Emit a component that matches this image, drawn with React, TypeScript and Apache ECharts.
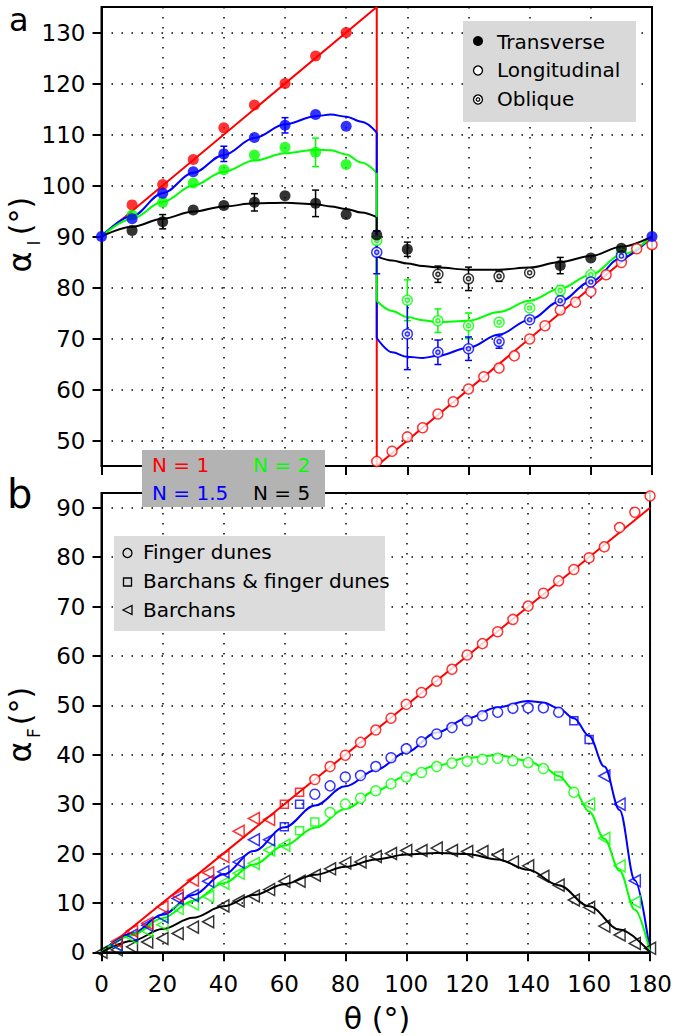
import { useEffect, useRef } from "react";
import * as echarts from "echarts";

const RED = "#ff0000";
const GREEN = "#00ff00";
const BLUE = "#0000ff";
const BLACK = "#000000";
const FONT = "DejaVu Sans";

// ---------- ticks ----------
const X_TICKS = [0, 20, 40, 60, 80, 100, 120, 140, 160, 180];
const Y_TICKS_A = [50, 60, 70, 80, 90, 100, 110, 120, 130];
const Y_TICKS_B = [0, 10, 20, 30, 40, 50, 60, 70, 80, 90];

// ---------- panel a : measured points ----------
const transThetaA = [10, 20, 30, 40, 50, 60, 70, 80];
const redTransverse = [96.2, 100.2, 105.1, 111.3, 115.8, 120.0, 125.4, 130.0];
const greenTransverse = [94.2, 96.7, 100.5, 103.1, 106.0, 107.5, 106.5, 104.1];
const blueTransTheta = [0, 10, 20, 30, 40, 50, 60, 70, 80, 180];
const blueTransverse = [90, 93.5, 98.5, 102.7, 106.2, 109.4, 111.8, 113.9, 111.6, 90];
const blackTransTheta = [10, 20, 30, 40, 50, 60, 70, 80, 90, 100, 150, 160, 170];
const blackTransverse = [91.2, 92.9, 95.2, 96.1, 96.7, 98.0, 96.5, 94.3, 90.3, 87.5, 84.3, 85.8, 87.7];

const redLongTheta = [90, 95, 100, 105, 110, 115, 120, 125, 130, 135, 140, 145, 150, 155, 160, 165, 170, 175, 180];
const redLongitudinal = [45.9, 47.9, 50.7, 52.5, 55.2, 57.6, 60.1, 62.5, 64.2, 66.6, 69.9, 72.5, 75.6, 77.1, 79.2, 82.5, 84.9, 87.6, 88.4];

const obliqueTheta = [90, 100, 110, 120, 130, 140, 150, 160, 170];
const greenOblique = [89.2, 77.5, 73.5, 72.5, 73.2, 76.0, 79.4, 82.5, 86.8];
const blueOblique = [86.9, 70.9, 67.3, 68.0, 69.4, 73.7, 77.4, 81.1, 86.2];
const blackObliqueTheta = [110, 120, 130, 140];
const blackOblique = [82.6, 81.7, 82.2, 82.9];

// error bars: [theta, value, half-width]
const errBlackA = [[20, 92.9, 1.4], [50, 96.7, 1.7], [70, 96.5, 2.6], [90, 90.3, 0.8], [100, 87.5, 1.4], [110, 82.6, 1.6], [120, 81.7, 2.3], [130, 82.2, 1.0], [150, 84.3, 1.6]];
const errGreenA = [[70, 106.5, 2.8], [100, 77.5, 4.0], [110, 73.5, 2.3], [120, 72.5, 2.5], [150, 79.4, 1.0]];
const errBlueA = [[40, 106.2, 1.5], [60, 111.8, 1.5], [90, 86.9, 4.2], [100, 70.9, 7.0], [110, 67.3, 2.4], [120, 68.0, 2.3], [130, 69.4, 1.3]];

// ---------- panel a : model curves ----------
const curveThetaTA = [0, 10, 20, 30, 40, 50, 60, 70, 75, 80, 85, 90];
const blueCurveTA = [90, 94.0, 98.5, 102.5, 106.0, 109.3, 112.0, 113.6, 113.9, 113.5, 112.5, 110.4];
const greenCurveTA = [90, 93.5, 96.8, 100.0, 102.7, 104.9, 106.3, 107.0, 106.9, 106.1, 104.5, 102.5];
const blackCurveTA = [90, 91.9, 93.5, 94.9, 95.9, 96.5, 96.6, 96.3, 95.9, 95.4, 94.7, 93.8];
const curveThetaLA = [90, 95, 100, 105, 110, 120, 130, 140, 150, 160, 170, 180];
const blueCurveLA = [70.1, 67.3, 66.4, 66.2, 66.6, 68.2, 70.8, 73.7, 77.3, 81.2, 85.8, 90];
const greenCurveLA = [77.4, 75.4, 74.2, 73.6, 73.2, 73.5, 75.2, 77.4, 79.8, 82.5, 86.4, 90];
const blackCurveLA = [86.1, 85.3, 84.7, 84.2, 83.9, 83.5, 83.5, 83.9, 85.0, 86.2, 88.0, 90];
const redCurveA = [[0, 90], [90, 135], [90, 45], [180, 90]];

// ---------- panel b : measured points ----------
const redBarchansTheta = [5, 10, 15, 20, 25, 30, 35, 40, 45, 50, 55];
const redBarchans = [2.2, 4.3, 5.9, 9.2, 11.5, 14.6, 16.1, 19.4, 24.5, 27.1, 26.9];
const redMixedTheta = [60, 65];
const redMixed = [30.0, 32.4];
const redFingerTheta = [70, 75, 80, 85, 90, 95, 100, 105, 110, 115, 120, 125, 130, 135, 140, 145, 150, 155, 160, 165, 170, 175, 180];
const redFinger = [35.0, 37.6, 39.9, 42.5, 45.0, 47.4, 50.2, 52.6, 54.9, 57.3, 60.2, 62.5, 64.9, 67.4, 70.1, 72.7, 75.2, 77.5, 79.9, 82.1, 86.0, 89.1, 92.4];

const blueBarchansTheta = [5, 10, 15, 20, 25, 30, 35, 40, 45, 50, 55, 165, 170, 175];
const blueBarchans = [1.5, 3.5, 5.5, 7.2, 10.9, 11.5, 14.4, 16.3, 18.3, 22.8, 22.8, 35.7, 30.0, 14.5];
const blueMixedTheta = [60, 65, 155, 160];
const blueMixed = [25.4, 30.0, 46.9, 43.1];
const blueFingerTheta = [70, 75, 80, 85, 90, 95, 100, 105, 110, 115, 120, 125, 130, 135, 140, 145, 150];
const blueFinger = [32.0, 33.7, 35.5, 35.8, 37.6, 39.4, 41.2, 42.6, 44.2, 45.5, 46.9, 47.9, 48.6, 49.4, 49.5, 49.5, 48.6];

const greenBarchansTheta = [5, 10, 15, 20, 25, 30, 35, 40, 45, 50, 55, 60, 160, 165, 170, 175];
const greenBarchans = [1.5, 3.0, 4.3, 5.6, 8.9, 9.8, 11.3, 14.0, 16.0, 18.0, 20.7, 21.7, 30.0, 23.1, 17.5, 10.2];
const greenMixedTheta = [65, 70, 150];
const greenMixed = [24.6, 26.4, 35.7];
const greenFingerTheta = [75, 80, 85, 90, 95, 100, 105, 110, 115, 120, 125, 130, 135, 140, 145, 155];
const greenFinger = [28.3, 30.0, 31.2, 32.7, 34.1, 35.5, 36.4, 37.6, 38.3, 38.7, 39.1, 39.3, 38.8, 38.4, 37.2, 32.4];

const blackBarchansTheta = [0, 5, 10, 15, 20, 25, 30, 35, 40, 45, 50, 55, 60, 65, 70, 75, 80, 85, 90, 95, 100, 105, 110, 115, 120, 125, 130, 135, 140, 145, 150, 155, 160, 165, 170, 175, 180];
const blackBarchans = [0, 0.5, 1.1, 2.1, 2.8, 3.8, 5.1, 6.2, 9.4, 10.4, 11.4, 12.7, 14.4, 14.4, 15.6, 16.9, 18.1, 18.3, 19.4, 20.0, 20.6, 20.6, 21.1, 20.6, 20.4, 20.4, 19.7, 18.3, 17.5, 15.4, 13.6, 10.6, 9.1, 5.3, 3.5, 1.8, 0.8];

// ---------- panel b : model curves ----------
const curveThetaB = [0, 10, 20, 30, 40, 50, 60, 70, 80, 90, 100, 110, 120, 130, 140, 145, 150, 155, 160, 165, 170, 175, 180];
const blueCurveB = [0, 3.8, 7.6, 11.6, 15.8, 20.5, 25.3, 29.7, 33.6, 36.9, 40.5, 44.5, 47.4, 49.6, 50.9, 50.6, 49.4, 47.4, 43.8, 37.6, 28.8, 14.6, 0];
const greenCurveB = [0, 3.4, 6.9, 10.4, 14.0, 17.8, 21.6, 25.2, 29.0, 32.7, 35.7, 37.8, 39.4, 39.9, 38.8, 37.5, 35.7, 32.9, 28.5, 23.0, 16.5, 8.6, 0];
const blackCurveThetaB = [0, 10, 20, 30, 40, 50, 60, 70, 80, 90, 100, 110, 120, 130, 140, 150, 160, 170, 180];
const blackCurveB = [0, 2.3, 4.7, 7.0, 9.3, 11.6, 13.8, 15.7, 17.3, 18.8, 19.8, 20.1, 19.9, 18.8, 16.7, 13.6, 9.3, 4.6, 0];
const redCurveB = [[0, 0], [180, 90]];

// ---------- helpers ----------
const zip = (xs: number[], ys: number[]) => xs.map((x, i) => [x, ys[i]]);

const SYM_DOUBLE = "path://M10,0A10,10,0,1,1,10,20A10,10,0,1,1,10,0ZM10,6A4,4,0,1,1,10,14A4,4,0,1,1,10,6Z";
const SYM_LTRI = "path://M0,6L11,0L11,12Z";

function scatter(g: number, data: number[][], symbol: string, size: number | number[], color: string, mode: "filled" | "white" | "none", z = 5) {
  return {
    type: "scatter",
    xAxisIndex: g,
    yAxisIndex: g,
    data,
    symbol,
    symbolSize: size,
    silent: true,
    z,
    clip: false,
    itemStyle:
      mode === "filled"
        ? { color, borderWidth: 0 }
        : { color: mode === "white" ? "#ffffff" : "rgba(255,255,255,0)", borderColor: color, borderWidth: 1.5 },
  };
}

function curve(g: number, data: number[][], color: string, smooth: number | boolean = 0.35) {
  return {
    type: "line",
    xAxisIndex: g,
    yAxisIndex: g,
    data,
    symbol: "none",
    showSymbol: false,
    smooth,
    smoothMonotone: "x",
    silent: true,
    z: 3,
    lineStyle: { color, width: 2 },
  };
}

function errBars(g: number, data: number[][], color: string) {
  return {
    type: "custom",
    xAxisIndex: g,
    yAxisIndex: g,
    data,
    silent: true,
    z: 4,
    encode: { x: 0, y: 1 },
    renderItem: (_p: any, api: any) => {
      const x = api.value(0);
      const v = api.value(1);
      const e = api.value(2);
      const p1 = api.coord([x, v - e]);
      const p2 = api.coord([x, v + e]);
      const w = 3.5;
      const st = { stroke: color, lineWidth: 1.5 };
      return {
        type: "group",
        children: [
          { type: "line", shape: { x1: p1[0], y1: p1[1], x2: p2[0], y2: p2[1] }, style: st },
          { type: "line", shape: { x1: p1[0] - w, y1: p1[1], x2: p1[0] + w, y2: p1[1] }, style: st },
          { type: "line", shape: { x1: p2[0] - w, y1: p2[1], x2: p2[0] + w, y2: p2[1] }, style: st },
        ],
      };
    },
  };
}

const dotted = { show: true, lineStyle: { color: "#000", width: 1.5, type: [1.5, 8.5] } };

function xAxis(g: number, labels: boolean) {
  return {
    type: "value",
    gridIndex: g,
    min: 0,
    max: 180,
    interval: 20,
    axisLine: { show: true, onZero: false, lineStyle: { color: "#000", width: 2 } },
    axisTick: { show: true, inside: false, length: 9, lineStyle: { color: "#000", width: 2 }, customValues: X_TICKS },
    axisLabel: { show: labels, fontSize: 23, color: "#000", fontFamily: FONT, margin: 20, customValues: X_TICKS },
    splitLine: dotted,
  };
}

function yAxis(g: number, min: number, max: number, ticks: number[]) {
  return {
    type: "value",
    gridIndex: g,
    min,
    max,
    axisLine: { show: true, onZero: false, lineStyle: { color: "#000", width: 2 } },
    axisTick: { show: true, inside: false, length: 9, lineStyle: { color: "#000", width: 2 }, customValues: ticks },
    axisLabel: { show: true, fontSize: 23, color: "#000", fontFamily: FONT, margin: 16, customValues: ticks },
    splitLine: dotted,
  };
}

function txt(x: number, y: number, text: string, size: number, color = "#000", align = "left", rotation = 0) {
  return {
    type: "text",
    x,
    y,
    rotation,
    z: 110,
    silent: true,
    style: { text, fontSize: size, fontFamily: FONT, fill: color, align, verticalAlign: "middle" },
  };
}

function buildOption() {
  const series: any[] = [
    // panel a curves
    curve(0, redCurveA, RED, false),
    curve(0, zip(curveThetaTA, blueCurveTA), BLUE),
    curve(0, zip(curveThetaTA, greenCurveTA), GREEN),
    curve(0, zip(curveThetaTA, blackCurveTA), BLACK),
    curve(0, [[90, blueCurveTA[blueCurveTA.length - 1]], [90, blueCurveLA[0]]], BLUE, false),
    curve(0, [[90, greenCurveTA[greenCurveTA.length - 1]], [90, greenCurveLA[0]]], GREEN, false),
    curve(0, [[90, blackCurveTA[blackCurveTA.length - 1]], [90, blackCurveLA[0]]], BLACK, false),
    curve(0, zip(curveThetaLA, blueCurveLA), BLUE),
    curve(0, zip(curveThetaLA, greenCurveLA), GREEN),
    curve(0, zip(curveThetaLA, blackCurveLA), BLACK),
    errBars(0, errBlackA, BLACK),
    errBars(0, errGreenA, GREEN),
    errBars(0, errBlueA, BLUE),
    scatter(0, zip(redLongTheta, redLongitudinal), "circle", 10, RED, "white"),
    scatter(0, zip(blackObliqueTheta, blackOblique), SYM_DOUBLE, 10, BLACK, "white"),
    scatter(0, zip(obliqueTheta, greenOblique), SYM_DOUBLE, 10, GREEN, "white"),
    scatter(0, zip(obliqueTheta, blueOblique), SYM_DOUBLE, 10, BLUE, "white"),
    scatter(0, zip(blackTransTheta, blackTransverse), "circle", 11, BLACK, "filled"),
    scatter(0, zip(transThetaA, redTransverse), "circle", 11, RED, "filled"),
    scatter(0, zip(transThetaA, greenTransverse), "circle", 11, GREEN, "filled"),
    scatter(0, zip(blueTransTheta, blueTransverse), "circle", 11, BLUE, "filled"),

    // panel b curves
    curve(1, redCurveB, RED, false),
    curve(1, zip(curveThetaB, blueCurveB), BLUE),
    curve(1, zip(curveThetaB, greenCurveB), GREEN),
    curve(1, zip(blackCurveThetaB, blackCurveB), BLACK),
    // panel b points
    scatter(1, zip(blackBarchansTheta, blackBarchans), SYM_LTRI, [11, 12], BLACK, "none"),
    scatter(1, zip(greenBarchansTheta, greenBarchans), SYM_LTRI, [11, 12], GREEN, "none"),
    scatter(1, zip(greenMixedTheta, greenMixed), "rect", 8, GREEN, "none"),
    scatter(1, zip(greenFingerTheta, greenFinger), "circle", 10, GREEN, "white"),
    scatter(1, zip(blueBarchansTheta, blueBarchans), SYM_LTRI, [11, 12], BLUE, "none"),
    scatter(1, zip(blueMixedTheta, blueMixed), "rect", 8, BLUE, "none"),
    scatter(1, zip(blueFingerTheta, blueFinger), "circle", 10, BLUE, "white"),
    scatter(1, zip(redBarchansTheta, redBarchans), SYM_LTRI, [11, 12], RED, "none"),
    scatter(1, zip(redMixedTheta, redMixed), "rect", 8, RED, "none"),
    scatter(1, zip(redFingerTheta, redFinger), "circle", 10, RED, "white"),
  ];

  const graphic: any[] = [
    // panel letters
    txt(9, 20, "a", 32),
    txt(7, 494, "b", 40),
    // axis titles
    txt(20, 262, "α", 32, "#000", "center", Math.PI / 2),
    txt(34, 243, "I", 17, "#000", "center", Math.PI / 2),
    txt(20, 216, "(°)", 30, "#000", "center", Math.PI / 2),
    txt(20, 752, "α", 32, "#000", "center", Math.PI / 2),
    txt(34, 733, "F", 17, "#000", "center", Math.PI / 2),
    txt(20, 706, "(°)", 30, "#000", "center", Math.PI / 2),
    txt(377, 1018, "θ (°)", 30, "#000", "center"),

    // legend a
    { type: "rect", z: 100, silent: true, shape: { x: 463, y: 21, width: 173, height: 101 }, style: { fill: "#d9d9d9" } },
    { type: "circle", z: 101, silent: true, shape: { cx: 478, cy: 41, r: 5 }, style: { fill: "#000" } },
    { type: "circle", z: 101, silent: true, shape: { cx: 478, cy: 70.5, r: 4.5 }, style: { fill: "#fff", stroke: "#000", lineWidth: 1.3 } },
    { type: "circle", z: 101, silent: true, shape: { cx: 478, cy: 99.5, r: 4.5 }, style: { fill: "#fff", stroke: "#000", lineWidth: 1.3 } },
    { type: "circle", z: 102, silent: true, shape: { cx: 478, cy: 99.5, r: 1.8 }, style: { fill: "#fff", stroke: "#000", lineWidth: 1.2 } },
    txt(497, 41.5, "Transverse", 20),
    txt(497, 70, "Longitudinal", 20),
    txt(497, 99, "Oblique", 20),

    // N legend
    { type: "rect", z: 100, silent: true, shape: { x: 142, y: 450, width: 183, height: 57 }, style: { fill: "#b3b3b3" } },
    txt(152, 465, "N = 1", 20, RED),
    txt(253, 465, "N = 2", 20, GREEN),
    txt(152, 493, "N = 1.5", 20, BLUE),
    txt(253, 493, "N = 5", 20, BLACK),

    // legend b
    { type: "rect", z: 100, silent: true, shape: { x: 114, y: 536, width: 271, height: 95 }, style: { fill: "#dcdcdc" } },
    { type: "circle", z: 101, silent: true, shape: { cx: 127.5, cy: 553, r: 4.5 }, style: { fill: "none", stroke: "#000", lineWidth: 1.3 } },
    { type: "rect", z: 101, silent: true, shape: { x: 123.5, y: 578, width: 8, height: 8 }, style: { fill: "none", stroke: "#000", lineWidth: 1.3 } },
    { type: "polygon", z: 101, silent: true, shape: { points: [[123, 610], [132, 605.5], [132, 614.5]] }, style: { fill: "none", stroke: "#000", lineWidth: 1.3 } },
    txt(143, 552, "Finger dunes", 20),
    txt(143, 581, "Barchans & finger dunes", 20),
    txt(143, 610, "Barchans", 20),
  ];

  return {
    animation: false,
    backgroundColor: "#ffffff",
    grid: [
      { left: 101.5, top: 7, right: 23, height: 459, show: true, borderColor: "#000", borderWidth: 2, backgroundColor: "transparent" },
      { left: 101.5, top: 493, right: 23, height: 459.3, show: true, borderColor: "#000", borderWidth: 2, backgroundColor: "transparent" },
    ],
    xAxis: [xAxis(0, false), xAxis(1, true)],
    yAxis: [yAxis(0, 45, 135, Y_TICKS_A), yAxis(1, 0, 93, Y_TICKS_B)],
    series,
    graphic,
  };
}

export default function App() {
  const ref = useRef<HTMLDivElement>(null);
  useEffect(() => {
    if (!ref.current) return;
    const chart = echarts.init(ref.current, undefined, { renderer: "svg" });
    chart.setOption(buildOption() as any);
    return () => chart.dispose();
  }, []);
  return (
    <div
      ref={ref}
      style={{ position: "fixed", left: 0, top: 0, width: 675, height: 1036, background: "#fff" }}
    />
  );
}
